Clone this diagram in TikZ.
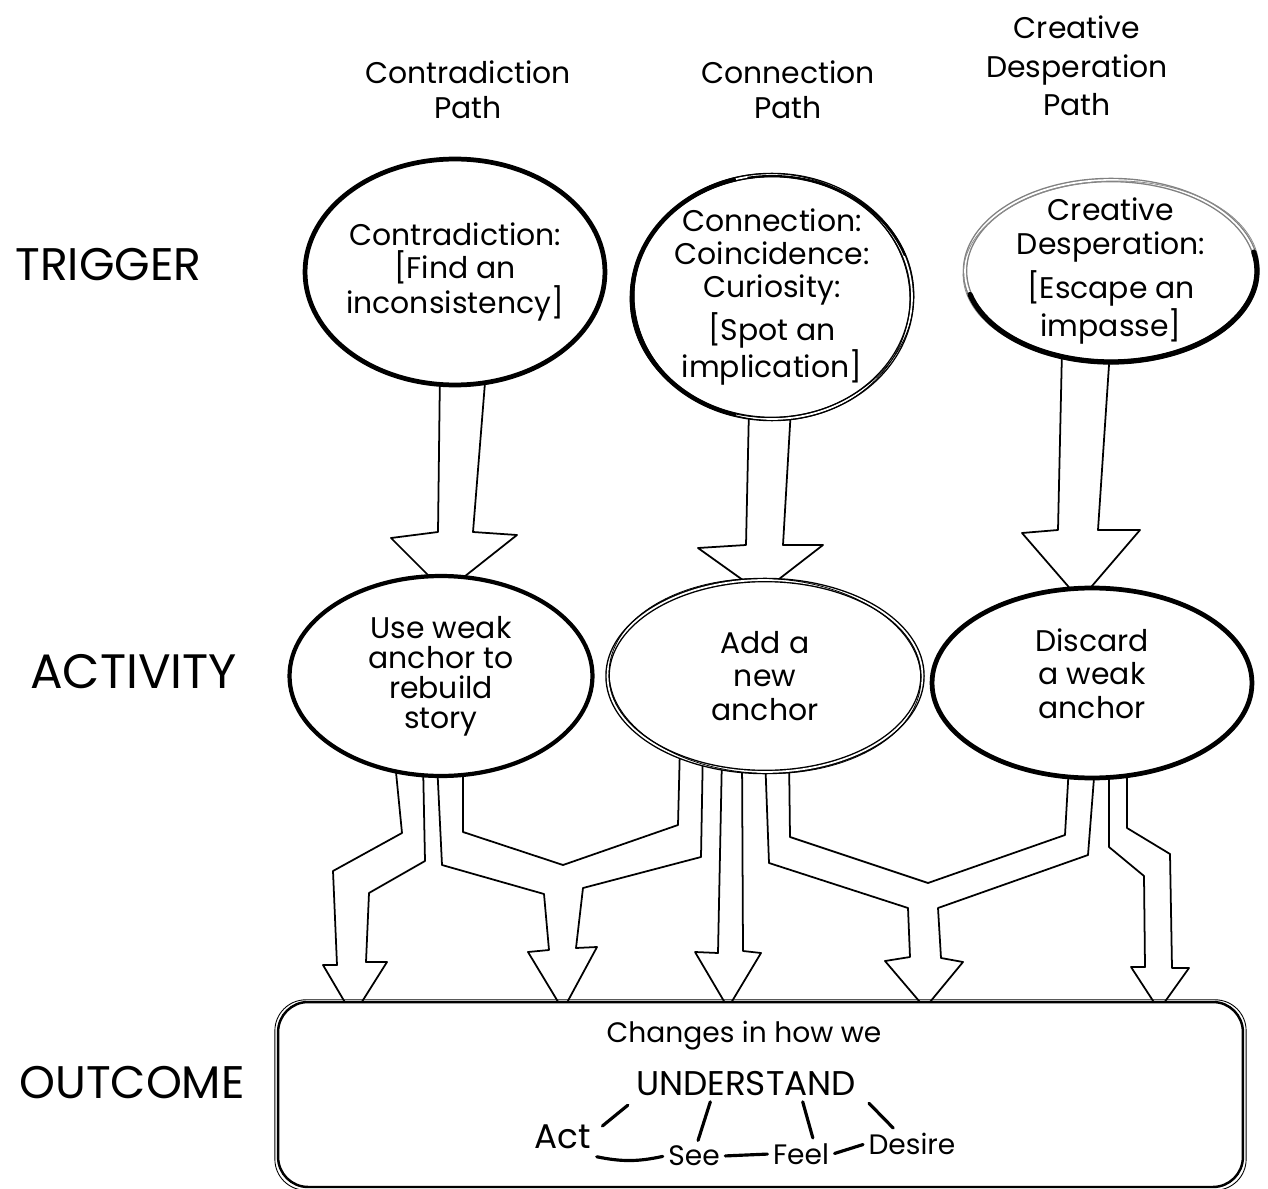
\documentclass[tikz,border=0pt]{standalone}
\usepackage{fontspec}
\setmainfont{Poppins}
\usepackage{tikz}
\usetikzlibrary{shapes.geometric, positioning}
\newcommand{\bubblefont}{\fontsize{17}{19}\selectfont}
\newcommand{\rowlabelfont}{\fontsize{26}{30}\selectfont}
\newcommand{\boxwordfont}{\fontsize{16}{19}\selectfont}

\begin{document}
\begin{tikzpicture}[
    x=0.02cm, y=-0.02cm,
    bubble/.style={ellipse, fill=white, align=center, inner sep=-0.8cm, font=\bubblefont},
    thickring/.style={bubble, draw, line width=2.7pt},
    roughring/.style={bubble, draw, line width=0.8pt, double, double distance=1pt},
    sketchline/.style={line width=0.45pt},
    rowlabel/.style={anchor=west, inner sep=0pt, font=\rowlabelfont},
    pathhead/.style={align=center, font=\fontsize{17}{20}\selectfont},
    fatarrow/.style={draw, line width=1pt, line join=round, fill=white},
    outcomebox/.style={draw, line width=1.4pt, rounded corners=0.6cm, fill=white,
                       minimum width=19.3cm, minimum height=3.7cm},
    boxword/.style={inner sep=2pt, font=\boxwordfont},
    tie/.style={line width=1.8pt, line cap=round, shorten >=1pt, shorten <=1pt}
]
    \useasboundingbox (0,0) rectangle (1268,1189);

    % Row labels
    \node[rowlabel] (trigger) at (15,265) {TRIGGER};
    \node[rowlabel, font=\fontsize{27.5}{30}\selectfont] (activity) at (30,672) {ACTIVITY};
    \node[rowlabel] (outcome) at (19,1083) {OUTCOME};

    % Column heads
    \node[pathhead] (hcontra) at (468,90) {Contradiction\\Path};
    \node[pathhead] (hconnect) at (788,90) {Connection\\Path};
    \node[pathhead, font=\fontsize{17}{22}\selectfont] (hdespair) at (1077,66) {Creative\\Desperation\\Path};

    % Fat arrows trigger -> activity (drawn first, rings cover the ends)
    \draw[fatarrow] (440,370) -- (438,532) -- (391,538) -- (445,592) -- (517,535) -- (473,532) -- (486,370) -- cycle;
    \draw[fatarrow] (749,408) -- (746,545) -- (698,548) -- (761,593) -- (823,545) -- (783,545) -- (791,408) -- cycle;
    \draw[fatarrow] (1062,350) -- (1058,530) -- (1022,533) -- (1080,600) -- (1140,530) -- (1098,530) -- (1110,350) -- cycle;

    % Fat arrows activity -> outcome
    \draw[fatarrow] (395,762) -- (402,833) -- (333,871) -- (337,965) -- (323,965) -- (353,1016)
        -- (387,962) -- (366,962) -- (369,893) -- (425,861) -- (423,762) -- cycle;
    \draw[fatarrow] (437,762) -- (442,865) -- (544,894) -- (549,950) -- (528,952) -- (563,1010)
        -- (597,947) -- (576,948) -- (583,888) -- (701,857) -- (703,745) -- (680,745)
        -- (678,825) -- (563,865) -- (463,832) -- (463,762) -- cycle;
    \draw[fatarrow] (722,755) -- (718,953) -- (695,952) -- (728,1008) -- (761,953) -- (743,951) -- (742,755) -- cycle;
    \draw[fatarrow] (765,755) -- (769,863) -- (908,908) -- (910,957) -- (885,961) -- (925,1008)
        -- (963,962) -- (941,958) -- (938,908) -- (1088,855) -- (1095,765) -- (1069,765)
        -- (1065,835) -- (928,883) -- (790,837) -- (789,755) -- cycle;
    \draw[fatarrow] (1109,765) -- (1109,847) -- (1144,876) -- (1145,967) -- (1131,967) -- (1159,1010)
        -- (1189,968) -- (1172,968) -- (1170,854) -- (1127,828) -- (1127,765) -- cycle;

    % Trigger rings
    \node[thickring, minimum width=6cm, minimum height=4.52cm] (contra) at (455,272)
        {Contradiction:\\ {[}Find an\\ inconsistency]};
    \node[roughring, minimum width=5.6cm, minimum height=4.88cm] (connect) at (772,297)
        {Connection:\\ Coincidence:\\ Curiosity:\\[3pt] {[}Spot an\\ implication]};
    \draw[sketchline] (connect.center) ellipse [x radius=2.84cm, y radius=2.41cm, rotate=3];
    \draw[sketchline] (connect.center) ellipse [x radius=2.76cm, y radius=2.47cm, rotate=-4];
    \draw[line width=2pt] (connect.center) ++(105:2.8cm and 2.44cm)
        arc[start angle=105, end angle=255, x radius=2.8cm, y radius=2.44cm];
    \draw[line width=1.2pt] (connect.center) ++(20:2.83cm and 2.42cm)
        arc[start angle=20, end angle=100, x radius=2.83cm, y radius=2.42cm];
    \node[roughring, draw=black!50, minimum width=5.84cm, minimum height=3.64cm] (despair) at (1111,271)
        {Creative\\ Desperation:\\[4pt] {[}Escape an\\ impasse]};
    \draw[sketchline, black!45] (despair.center) ellipse [x radius=2.96cm, y radius=1.8cm, rotate=2];
    \draw[line width=3pt, line cap=round] (despair.center) ++(195:2.92cm and 1.82cm)
        arc[start angle=195, end angle=372, x radius=2.92cm, y radius=1.82cm];

    % Activity rings
    \node[thickring, line width=2.4pt, minimum width=6.06cm, minimum height=4cm] (rebuild) at (441,676)
        {Use weak\\[-2pt] anchor to\\[-2pt] rebuild\\[-2pt] story};
    \node[roughring, minimum width=6.3cm, minimum height=3.84cm] (addanchor) at (765,676)
        {Add a\\ new\\ anchor};
    \draw[sketchline] (addanchor.center) ellipse [x radius=3.12cm, y radius=1.95cm, rotate=-2];
    \node[thickring, minimum width=6.4cm, minimum height=3.8cm] (discard) at (1092,683)
        {Discard\\ a weak\\ anchor\\[-8pt]{}};

    % Outcome box
    \node[outcomebox] (outbox) at (760.5,1094.5) {};
    \draw[line width=0.5pt, rounded corners=0.62cm] ([shift={(-2,2)}]outbox.south west)
        rectangle ([shift={(2,-1)}]outbox.north east);

    \node[boxword] (changes) at (744,1036) {Changes in how we};
    \node[boxword, font=\fontsize{19.5}{22}\selectfont] (understand) at (746,1084) {UNDERSTAND};
    \node[boxword, font=\fontsize{19.5}{22}\selectfont] (act) at (563,1137) {Act};
    \node[boxword] (see) at (694,1156) {See};
    \node[boxword] (feel) at (801,1154) {Feel};
    \node[boxword] (desire) at (912,1144) {Desire};

    \draw[tie] ([shift={(6,6)}]act.north east) -- ([shift={(-3,4)}]understand.south west);
    \draw[tie] ([xshift=2pt]see.north) -- ([xshift=-20pt]understand.south);
    \draw[tie] ([xshift=32pt]understand.south) -- ([xshift=7pt]feel.north);
    \draw[tie] ([shift={(8,2)}]understand.south east) -- ([xshift=-10pt]desire.north);
    \draw[tie] ([yshift=-2pt]act.south east) to[bend right=12] (see.west);
    \draw[tie] (see.east) -- (feel.west);
    \draw[tie] (feel.east) -- (desire.west);
\end{tikzpicture}
\end{document}
